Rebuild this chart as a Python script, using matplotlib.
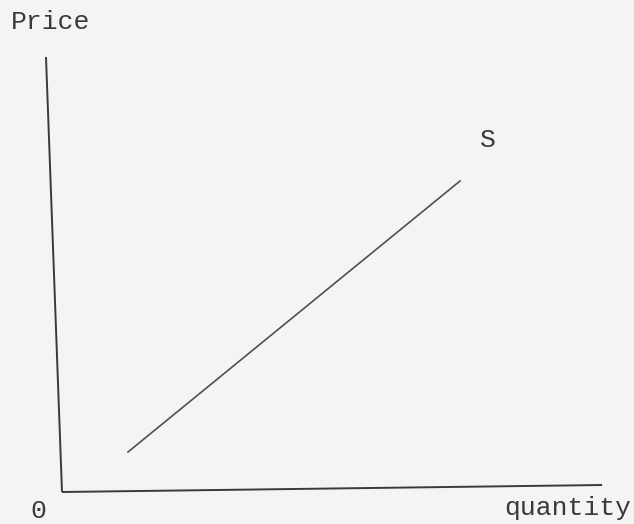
import matplotlib
matplotlib.use("Agg")
import matplotlib.pyplot as plt

# hand-drawn supply diagram (units: roughly pixels from the origin corner)
supply_q = [66, 398]
supply_p = [40, 311]

# axes as drawn on the page (slightly skewed by the scan)
yaxis_q = [0, -16]
yaxis_p = [0, 435]
xaxis_q = [0, 540]
xaxis_p = [0, 7]

bg = "#f4f4f4"
ink = "#3a3a3a"
font = "Liberation Mono"
fs = 19

fig = plt.figure(figsize=(6.34, 5.24), dpi=100, facecolor=bg)
ax = fig.add_axes([0, 0, 1, 1])
ax.set_facecolor(bg)
ax.set_xlim(-62, 572)
ax.set_ylim(-32, 492)
ax.axis("off")

ax.plot(yaxis_q, yaxis_p, color=ink, lw=1.4, solid_capstyle="butt")
ax.plot(xaxis_q, xaxis_p, color=ink, lw=1.4, solid_capstyle="butt")
ax.plot(supply_q, supply_p, color="#505050", lw=1.2)

ax.text(-51, 463, "Price", fontsize=fs, family=font, color=ink, va="baseline", ha="left")
ax.text(426, 345, "S", fontsize=fs, family=font, color=ink, va="baseline", ha="center")
ax.text(-24, -26, "0", fontsize=fs, family=font, color=ink, va="baseline", ha="center")
ax.text(569, -23, "quantity", fontsize=fs, family=font, color=ink, va="baseline", ha="right")

fig.savefig("out.png", dpi=100, facecolor=bg)
